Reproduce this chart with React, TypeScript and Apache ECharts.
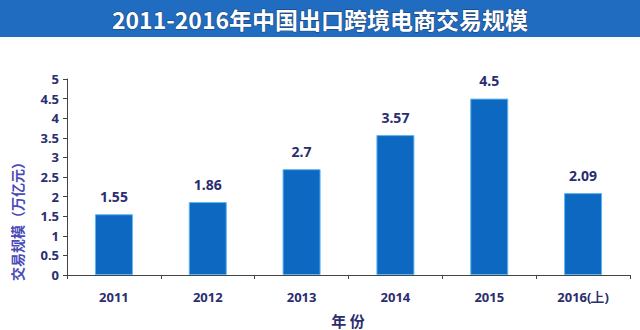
import React, { useEffect, useRef } from "react";
import * as echarts from "echarts";

const categories = ["2011", "2012", "2013", "2014", "2015", "2016(上)"];
const values = [1.55, 1.86, 2.7, 3.57, 4.5, 2.09];
const titleText = "2011-2016年中国出口跨境电商交易规模";
const yName = "交易规模（万亿元）";
const xName = "年 份";

export default function App() {
  const ref = useRef<HTMLDivElement>(null);
  useEffect(() => {
    const chart = echarts.init(ref.current!, null, { renderer: "svg" });
    chart.setOption({
      animation: false,
      backgroundColor: "#ffffff",
      graphic: [
        {
          type: "rect",
          shape: { x: 0, y: 0, width: 640, height: 37 },
          style: { fill: "#1f6cc0" },
        },
        {
          type: "text",
          x: 320,
          y: 19,
          style: {
            text: titleText,
            fill: "#ffffff",
            font: "bold 23px 'Noto Sans CJK SC', sans-serif",
            align: "center",
            verticalAlign: "middle",
            stroke: "#1a3f73",
            lineWidth: 1,
          },
        },
        {
          type: "text",
          x: 17,
          y: 218,
          rotation: Math.PI / 2,
          style: {
            text: yName,
            fill: "#4a4ab8",
            font: "bold 14px 'Noto Sans CJK SC', sans-serif",
            align: "center",
            verticalAlign: "middle",
          },
        },
        {
          type: "text",
          x: 348,
          y: 320,
          style: {
            text: xName,
            fill: "#2b2d6e",
            font: "bold 15px 'Noto Sans CJK SC', sans-serif",
            align: "center",
            verticalAlign: "middle",
          },
        },
      ],
      grid: { left: 67, right: 10, top: 79, bottom: 55 },
      xAxis: {
        type: "category",
        data: categories,
        axisLine: { lineStyle: { color: "#444", width: 1 } },
        axisTick: { show: true, length: 4, lineStyle: { color: "#444" } },
        axisLabel: {
          color: "#2b2d6e",
          fontWeight: "bold",
          fontSize: 13,
          fontFamily: "'Noto Sans', sans-serif",
          margin: 15,
        },
      },
      yAxis: {
        type: "value",
        min: 0,
        max: 5,
        interval: 0.5,
        splitLine: { show: false },
        axisLine: { show: true, lineStyle: { color: "#444", width: 1 } },
        axisTick: { show: true, length: 4, lineStyle: { color: "#444" } },
        axisLabel: {
          color: "#2b2d6e",
          fontWeight: "bold",
          fontSize: 13,
          fontFamily: "'Noto Sans', sans-serif",
          margin: 8,
        },
      },
      series: [
        {
          type: "bar",
          data: values,
          barWidth: 38,
          itemStyle: { color: "#0d68c2", borderColor: "#5fb6f0", borderWidth: 1 },
          label: {
            show: true,
            position: "top",
            distance: 11,
            color: "#2b2d6e",
            fontWeight: "bold",
            fontSize: 14,
            fontFamily: "'Noto Sans', sans-serif",
          },
        },
      ],
    });
    return () => chart.dispose();
  }, []);
  return <div ref={ref} style={{ width: 640, height: 330, position: "absolute", left: 0, top: 0 }} />;
}
